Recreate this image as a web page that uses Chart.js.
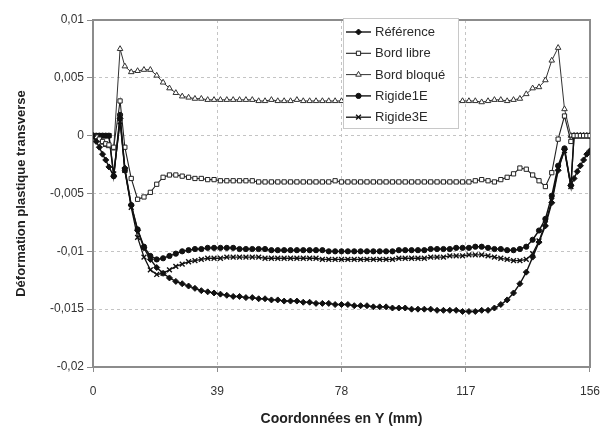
<!DOCTYPE html>
<html>
<head>
<meta charset="utf-8">
<script src="https://cdn.jsdelivr.net/npm/chart.js@4/dist/chart.umd.min.js"></script>
<style>
html,body{margin:0;padding:0;background:#fff;}
#wrap{width:612px;height:428px;}
</style>
</head>
<body>
<div id="wrap"><canvas id="c" width="612" height="428"></canvas></div>
<script>
// Y coordinate (mm)
const xValues = [0,1,2,3,4,5,6.5,8.5,
  10,12,14,16,18,20,22,24,26,28,
  30,32,34,36,38,40,42,44,46,48,
  50,52,54,56,58,60,62,64,66,68,
  70,72,74,76,78,80,82,84,86,88,
  90,92,94,96,98,100,102,104,106,108,
  110,112,114,116,118,120,122,124,126,128,
  130,132,134,136,138,140,142,144,
  146,148,150,
  151,152,153,154,155,156];

const referenceValues = [0,-0.0005,-0.001,-0.0016,-0.0021,-0.0027,-0.0035,0.0015,
  -0.0028,-0.006,-0.0082,-0.0097,-0.0107,-0.0114,-0.0119,-0.0123,-0.0126,-0.0128,
  -0.013,-0.0132,-0.0134,-0.0135,-0.0136,-0.0137,-0.0138,-0.0139,-0.0139,-0.014,
  -0.014,-0.0141,-0.0141,-0.0142,-0.0142,-0.0143,-0.0143,-0.0143,-0.0144,-0.0144,
  -0.0145,-0.0145,-0.0145,-0.0146,-0.0146,-0.0146,-0.0147,-0.0147,-0.0147,-0.0148,
  -0.0148,-0.0148,-0.0149,-0.0149,-0.0149,-0.015,-0.015,-0.015,-0.015,-0.0151,
  -0.0151,-0.0151,-0.0151,-0.0152,-0.0152,-0.0152,-0.0151,-0.0151,-0.0149,-0.0146,
  -0.0142,-0.0136,-0.0128,-0.0118,-0.0105,-0.0092,-0.0078,-0.0058,
  -0.003,-0.0012,-0.0043,
  -0.0037,-0.0031,-0.0026,-0.0021,-0.0016,-0.0013];

const bordLibreValues = [0,-0.0001,-0.0003,-0.0005,-0.0007,-0.0008,-0.001,0.003,
  -0.001,-0.0037,-0.0055,-0.0053,-0.0049,-0.0042,-0.0036,-0.0034,-0.0034,-0.0035,
  -0.0036,-0.0037,-0.0037,-0.0038,-0.0038,-0.0039,-0.0039,-0.0039,-0.0039,-0.0039,
  -0.0039,-0.004,-0.004,-0.004,-0.004,-0.004,-0.004,-0.004,-0.004,-0.004,
  -0.004,-0.004,-0.004,-0.0039,-0.004,-0.004,-0.004,-0.004,-0.004,-0.004,
  -0.004,-0.004,-0.004,-0.004,-0.004,-0.004,-0.004,-0.004,-0.004,-0.004,
  -0.004,-0.004,-0.004,-0.004,-0.004,-0.0039,-0.0038,-0.0039,-0.004,-0.0038,
  -0.0036,-0.0033,-0.0028,-0.0029,-0.0034,-0.0039,-0.0044,-0.0032,
  -0.0003,0.0017,-0.0005,
  0,0,0,0,0,0];

const bordBloqueValues = [0,-0.0002,-0.0004,-0.0006,-0.0008,-0.0009,-0.0011,0.0075,
  0.006,0.0055,0.0056,0.0057,0.0057,0.0052,0.0046,0.0041,0.0037,0.0034,
  0.0033,0.0032,0.0032,0.0031,0.0031,0.0031,0.0031,0.0031,0.0031,0.0031,
  0.0031,0.003,0.003,0.0031,0.003,0.003,0.003,0.0031,0.003,0.003,
  0.003,0.003,0.003,0.003,0.003,0.0029,0.003,0.003,0.003,0.003,
  0.003,0.003,0.003,0.003,0.003,0.003,0.003,0.003,0.003,0.003,
  0.003,0.003,0.0029,0.003,0.003,0.003,0.0029,0.003,0.0031,0.0031,
  0.003,0.0031,0.0032,0.0036,0.0041,0.0042,0.0048,0.0065,
  0.0076,0.0023,0,
  0,0,0,0,0,0];

const rigide1EValues = [0,0,0,0,0,0,-0.0035,0.0018,
  -0.003,-0.006,-0.0081,-0.0096,-0.0104,-0.0107,-0.0106,-0.0104,-0.0102,-0.01,
  -0.0099,-0.0098,-0.0098,-0.0097,-0.0097,-0.0097,-0.0097,-0.0097,-0.0098,-0.0098,
  -0.0098,-0.0098,-0.0098,-0.0099,-0.0099,-0.0099,-0.0099,-0.0099,-0.0099,-0.0099,
  -0.0099,-0.0099,-0.01,-0.01,-0.01,-0.01,-0.01,-0.01,-0.01,-0.01,
  -0.01,-0.01,-0.01,-0.0099,-0.0099,-0.0099,-0.0099,-0.0099,-0.0098,-0.0098,
  -0.0098,-0.0098,-0.0097,-0.0097,-0.0097,-0.0096,-0.0096,-0.0097,-0.0098,-0.0098,
  -0.0099,-0.0099,-0.0098,-0.0096,-0.009,-0.0082,-0.0072,-0.0052,
  -0.0026,-0.0011,-0.0043,
  0,0,0,0,0,0];

const rigide3EValues = [0,0,0,0,0,0,-0.0033,0.0012,
  -0.003,-0.0062,-0.0088,-0.0105,-0.0116,-0.012,-0.0119,-0.0116,-0.0113,-0.0111,
  -0.0109,-0.0108,-0.0107,-0.0106,-0.0106,-0.0106,-0.0105,-0.0105,-0.0105,-0.0105,
  -0.0105,-0.0105,-0.0106,-0.0106,-0.0106,-0.0106,-0.0106,-0.0106,-0.0106,-0.0106,
  -0.0106,-0.0107,-0.0107,-0.0107,-0.0107,-0.0107,-0.0107,-0.0107,-0.0107,-0.0107,
  -0.0107,-0.0107,-0.0107,-0.0106,-0.0106,-0.0106,-0.0106,-0.0106,-0.0105,-0.0105,
  -0.0105,-0.0104,-0.0104,-0.0104,-0.0103,-0.0103,-0.0103,-0.0104,-0.0105,-0.0106,
  -0.0107,-0.0108,-0.0108,-0.0107,-0.0102,-0.0091,-0.0076,-0.0056,
  -0.0028,-0.0013,-0.0044,
  0,0,0,0,0,0];

const seriesNames = ['Référence','Bord libre','Bord bloqué','Rigide1E','Rigide3E'];
const xTickValues = [0,39,78,117,156];
const yTickValues = [-0.02,-0.015,-0.01,-0.005,0,0.005,0.01];
const yTickLabels = ['-0,02','-0,015','-0,01','-0,005','0','0,005','0,01'];
const xTitle = 'Coordonnées en Y (mm)';
const yTitle = 'Déformation plastique transverse';

function pts(ys){ return xValues.map((x,i)=>({x:x,y:ys[i]})); }

const styles = [
  {pointStyle:'rectRot', pointRadius:3, bg:'#111', border:'#111', lw:1.4, pbw:1},
  {pointStyle:'rect', pointRadius:3, bg:'#fff', border:'#222', lw:1.1, pbw:1},
  {pointStyle:'triangle', pointRadius:3.2, bg:'#fff', border:'#333', lw:1.0, pbw:1},
  {pointStyle:'circle', pointRadius:2.6, bg:'#111', border:'#111', lw:1.4, pbw:1},
  {pointStyle:'crossRot', pointRadius:3.4, bg:'#111', border:'#111', lw:1.3, pbw:1.4}
];
const allValues = [referenceValues,bordLibreValues,bordBloqueValues,rigide1EValues,rigide3EValues];

const datasets = allValues.map((vals,i)=>({
  label: seriesNames[i],
  data: pts(vals),
  showLine: true,
  borderColor: styles[i].border,
  backgroundColor: styles[i].bg,
  borderWidth: styles[i].lw,
  pointStyle: styles[i].pointStyle,
  pointRadius: styles[i].pointRadius,
  pointBorderWidth: styles[i].pbw,
  pointBackgroundColor: styles[i].bg,
  pointBorderColor: styles[i].border,
  tension: 0
}));

const framePlugin = {
  id:'frame',
  beforeDatasetsDraw(chart){
    const {ctx, chartArea:a} = chart;
    ctx.save();
    ctx.strokeStyle = '#8c8c8c';
    ctx.lineWidth = 2;
    ctx.strokeRect(a.left, a.top, a.right-a.left, a.bottom-a.top);
    ctx.restore();
  },
  afterDatasetsDraw(chart){
    const ctx = chart.ctx;
    const bx=343, by=18, bw=115, bh=110;
    ctx.save();
    ctx.fillStyle='#fff';
    ctx.fillRect(bx,by,bw,bh);
    ctx.strokeStyle='#c8c8c8';
    ctx.lineWidth=1;
    ctx.strokeRect(bx+0.5,by+0.5,bw,bh);
    chart.data.datasets.forEach((ds,i)=>{
      const y = 32 + i*21.3;
      ctx.strokeStyle = ds.borderColor;
      ctx.lineWidth = ds.borderWidth;
      ctx.beginPath(); ctx.moveTo(346,y); ctx.lineTo(371,y); ctx.stroke();
      ctx.fillStyle = ds.pointBackgroundColor;
      ctx.strokeStyle = ds.pointBorderColor;
      ctx.lineWidth = ds.pointBorderWidth;
      Chart.helpers.drawPoint(ctx,{pointStyle:ds.pointStyle, radius:ds.pointRadius, borderWidth:ds.pointBorderWidth, rotation:0}, 358.5, y);
      ctx.fillStyle='#2a2a2a';
      ctx.font='13px "Liberation Sans", Arial, sans-serif';
      ctx.textBaseline='middle';
      ctx.textAlign='left';
      ctx.fillText(ds.label, 375, y+0.5);
    });
    ctx.restore();
  }
};

new Chart(document.getElementById('c'), {
  type:'scatter',
  data:{datasets},
  options:{
    responsive:false,
    animation:false,
    devicePixelRatio:1,
    layout:{padding:{top:20,right:20,left:0,bottom:0}},
    plugins:{legend:{display:false}, tooltip:{enabled:false}},
    scales:{
      x:{
        type:'linear', min:0, max:156,
        afterBuildTicks(s){ s.ticks = xTickValues.map(v=>({value:v})); },
        afterFit(s){ s.height = 61; },
        ticks:{ padding:12, color:'#333', font:{family:'"Liberation Sans", Arial, sans-serif', size:12}, maxRotation:0,
          callback:(v)=>String(v) },
        grid:{ color:'#c4c4c4', tickLength:5, tickColor:'#8c8c8c', tickBorderDash:[1,0], lineWidth:1 },
        border:{display:false, dash:[3,3]},
        title:{ display:true, text:xTitle, color:'#222', font:{family:'"Liberation Sans", Arial, sans-serif', size:14, weight:'bold'}, padding:{top:0,bottom:0} }
      },
      y:{
        type:'linear', min:-0.02, max:0.01,
        afterBuildTicks(s){ s.ticks = yTickValues.map(v=>({value:v})); },
        afterFit(s){ s.width = 93; },
        ticks:{ padding:3, color:'#333', font:{family:'"Liberation Sans", Arial, sans-serif', size:12},
          callback:(v)=>{ const k = yTickValues.findIndex(t=>Math.abs(t-v)<1e-9); return k>=0 ? yTickLabels[k] : ''; } },
        grid:{ color:'#c4c4c4', tickLength:6, tickColor:'#8c8c8c', tickBorderDash:[1,0], lineWidth:1 },
        border:{display:false, dash:[3,3]},
        title:{ display:true, text:yTitle, color:'#222', font:{family:'"Liberation Sans", Arial, sans-serif', size:13, weight:'bold'}, padding:{top:14,bottom:0} }
      }
    }
  },
  plugins:[framePlugin]
});
</script>
</body>
</html>
